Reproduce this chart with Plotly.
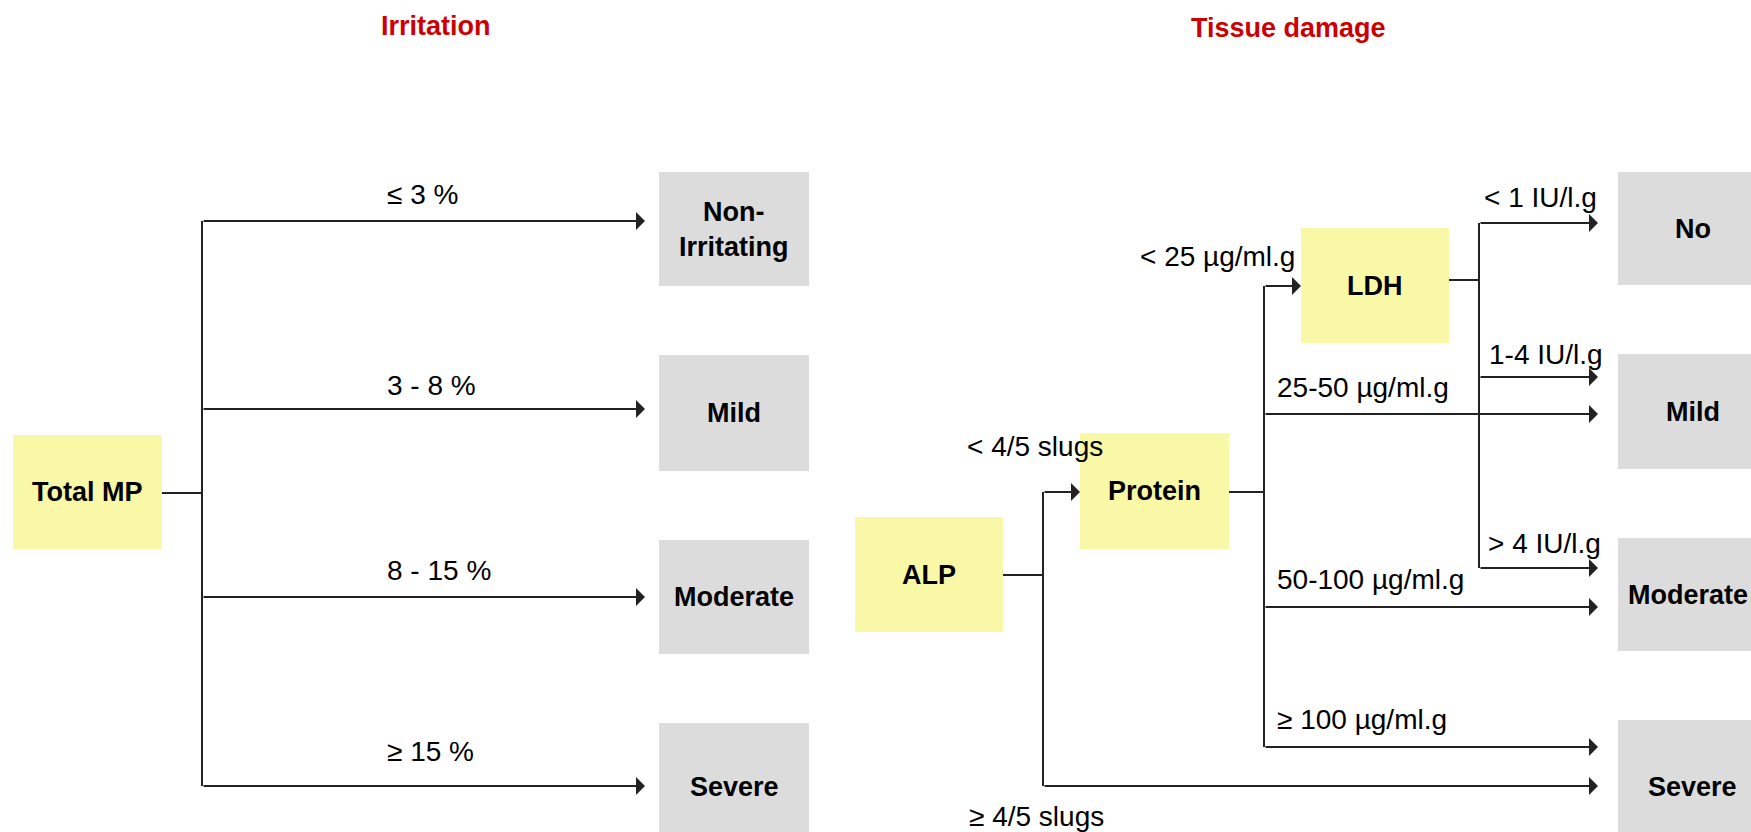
import plotly.graph_objects as go

# ---------------- data (text content) ----------------
panel_titles = ["Irritation", "Tissue damage"]
irritation_root = "Total MP"
irritation_classes = ["Non-<br>Irritating", "Mild", "Moderate", "Severe"]
irritation_thresholds = ["≤ 3 %", "3 - 8 %", "8 - 15 %", "≥ 15 %"]
damage_nodes = ["ALP", "Protein", "LDH"]
damage_classes = ["No", "Mild", "Moderate", "Severe"]
alp_thresholds = ["< 4/5 slugs", "≥ 4/5 slugs"]
protein_thresholds = ["< 25 µg/ml.g", "25-50 µg/ml.g", "50-100 µg/ml.g", "≥ 100 µg/ml.g"]
ldh_thresholds = ["< 1 IU/l.g", "1-4 IU/l.g", "> 4 IU/l.g"]

# ---------------- layout geometry (pixel-like canvas units) ----------------
W, H = 1751, 832
FONT = "Liberation Sans, Arial, Helvetica, sans-serif"
BOLD_SIZE = 27
REG_SIZE = 28
YELLOW = "#f8f8a6"
GREY = "#dcdcdc"
LINE = "#222222"
RED = "#cc0000"

root_box = (13, 162, 435, 549)
irr_box_x = (659, 809)
irr_box_y = [(172, 286), (355, 471), (540, 654), (723, 840)]
irr_trunk_x = 202
irr_branch_y = [221, 409, 597, 786]
irr_tip_x = 645
irr_label_x = 385
irr_label_y = [194, 385, 570, 751]

alp_box = (855, 1003, 517, 632)
prot_box = (1080, 1229, 433, 549)
ldh_box = (1301, 1449, 228, 343)
dmg_box_x = (1618, 1768)
dmg_box_y = [(172, 285), (354, 469), (538, 651), (720, 840)]
dmg_text_x = [1693, 1693, 1688, 1692]
tip_x = 1598

shapes = []
annotations = []


def rect(b, color):
    shapes.append(dict(type="rect", xref="x", yref="y", x0=b[0], x1=b[1], y0=b[2], y1=b[3],
                       fillcolor=color, line=dict(width=0), layer="below"))


def seg(x0, y0, x1, y1):
    shapes.append(dict(type="line", xref="x", yref="y", x0=x0, y0=y0, x1=x1, y1=y1,
                       line=dict(color=LINE, width=2)))


def arrow(x0, x1, y):
    annotations.append(dict(x=x1, y=y, ax=x0, ay=y, xref="x", yref="y", axref="x", ayref="y",
                            text="", showarrow=True, arrowhead=1, arrowsize=1.5, arrowwidth=2,
                            arrowcolor=LINE, standoff=0, startstandoff=0))


def label(x, y, text, bold=False, size=None, xanchor="center", color="#000000"):
    if size is None:
        size = BOLD_SIZE if bold else REG_SIZE
    t = f"<b>{text}</b>" if bold else text
    annotations.append(dict(x=x, y=y, xref="x", yref="y", text=t, showarrow=False,
                            xanchor=xanchor, yanchor="middle", align="center",
                            font=dict(family=FONT, size=size, color=color)))


# titles
label(436, 26, panel_titles[0], bold=True, color=RED)
label(1288, 28, panel_titles[1], bold=True, color=RED)

# ---------- Irritation tree ----------
rect(root_box, YELLOW)
label((root_box[0] + root_box[1]) / 2, (root_box[2] + root_box[3]) / 2, irritation_root, bold=True)
seg(root_box[1], 493, irr_trunk_x, 493)
seg(irr_trunk_x, irr_branch_y[0], irr_trunk_x, irr_branch_y[-1])
for i, cls in enumerate(irritation_classes):
    by = irr_box_y[i]
    rect((irr_box_x[0], irr_box_x[1], by[0], by[1]), GREY)
    cy = (by[0] + by[1]) / 2 if i < 3 else 787
    label((irr_box_x[0] + irr_box_x[1]) / 2, cy, cls, bold=True)
    arrow(irr_trunk_x, irr_tip_x, irr_branch_y[i])
    label(irr_label_x, irr_label_y[i], irritation_thresholds[i], xanchor="left")

# ---------- Tissue damage tree ----------
for b, name in zip([alp_box, prot_box, ldh_box], damage_nodes):
    rect(b, YELLOW)
    label((b[0] + b[1]) / 2, (b[2] + b[3]) / 2, name, bold=True)

for i, cls in enumerate(damage_classes):
    by = dmg_box_y[i]
    rect((dmg_box_x[0], dmg_box_x[1], by[0], by[1]), GREY)
    cy = (by[0] + by[1]) / 2 if i < 3 else 787
    label(dmg_text_x[i], cy, cls, bold=True)

# ALP branch
seg(alp_box[1], 575, 1043, 575)
seg(1043, 492, 1043, 786)
arrow(1043, prot_box[0], 492)
arrow(1043, tip_x, 786)
label(965, 446, alp_thresholds[0], xanchor="left")
label(967, 816, alp_thresholds[1], xanchor="left")

# Protein branch
seg(prot_box[1], 492, 1264, 492)
seg(1264, 286, 1264, 747)
arrow(1264, ldh_box[0], 286)
for yy in [414, 607, 747]:
    arrow(1264, tip_x, yy)
label(1297, 256, protein_thresholds[0], xanchor="right")
label(1275, 387, protein_thresholds[1], xanchor="left")
label(1275, 579, protein_thresholds[2], xanchor="left")
label(1275, 719, protein_thresholds[3], xanchor="left")

# LDH branch
seg(ldh_box[1], 280, 1479, 280)
seg(1479, 223, 1479, 568)
for yy in [223, 377, 568]:
    arrow(1479, tip_x, yy)
label(1482, 197, ldh_thresholds[0], xanchor="left")
label(1487, 354, ldh_thresholds[1], xanchor="left")
label(1486, 543, ldh_thresholds[2], xanchor="left")

fig = go.Figure()
fig.update_layout(
    width=W, height=H,
    margin=dict(l=0, r=0, t=0, b=0),
    paper_bgcolor="white", plot_bgcolor="white",
    xaxis=dict(range=[0, W], visible=False, fixedrange=True),
    yaxis=dict(range=[H, 0], visible=False, fixedrange=True),
    shapes=shapes, annotations=annotations, showlegend=False,
)
fig.write_html("out.html", post_script="document.body.style.margin='0';document.body.style.overflow='hidden';",
               config={"displayModeBar": False})
